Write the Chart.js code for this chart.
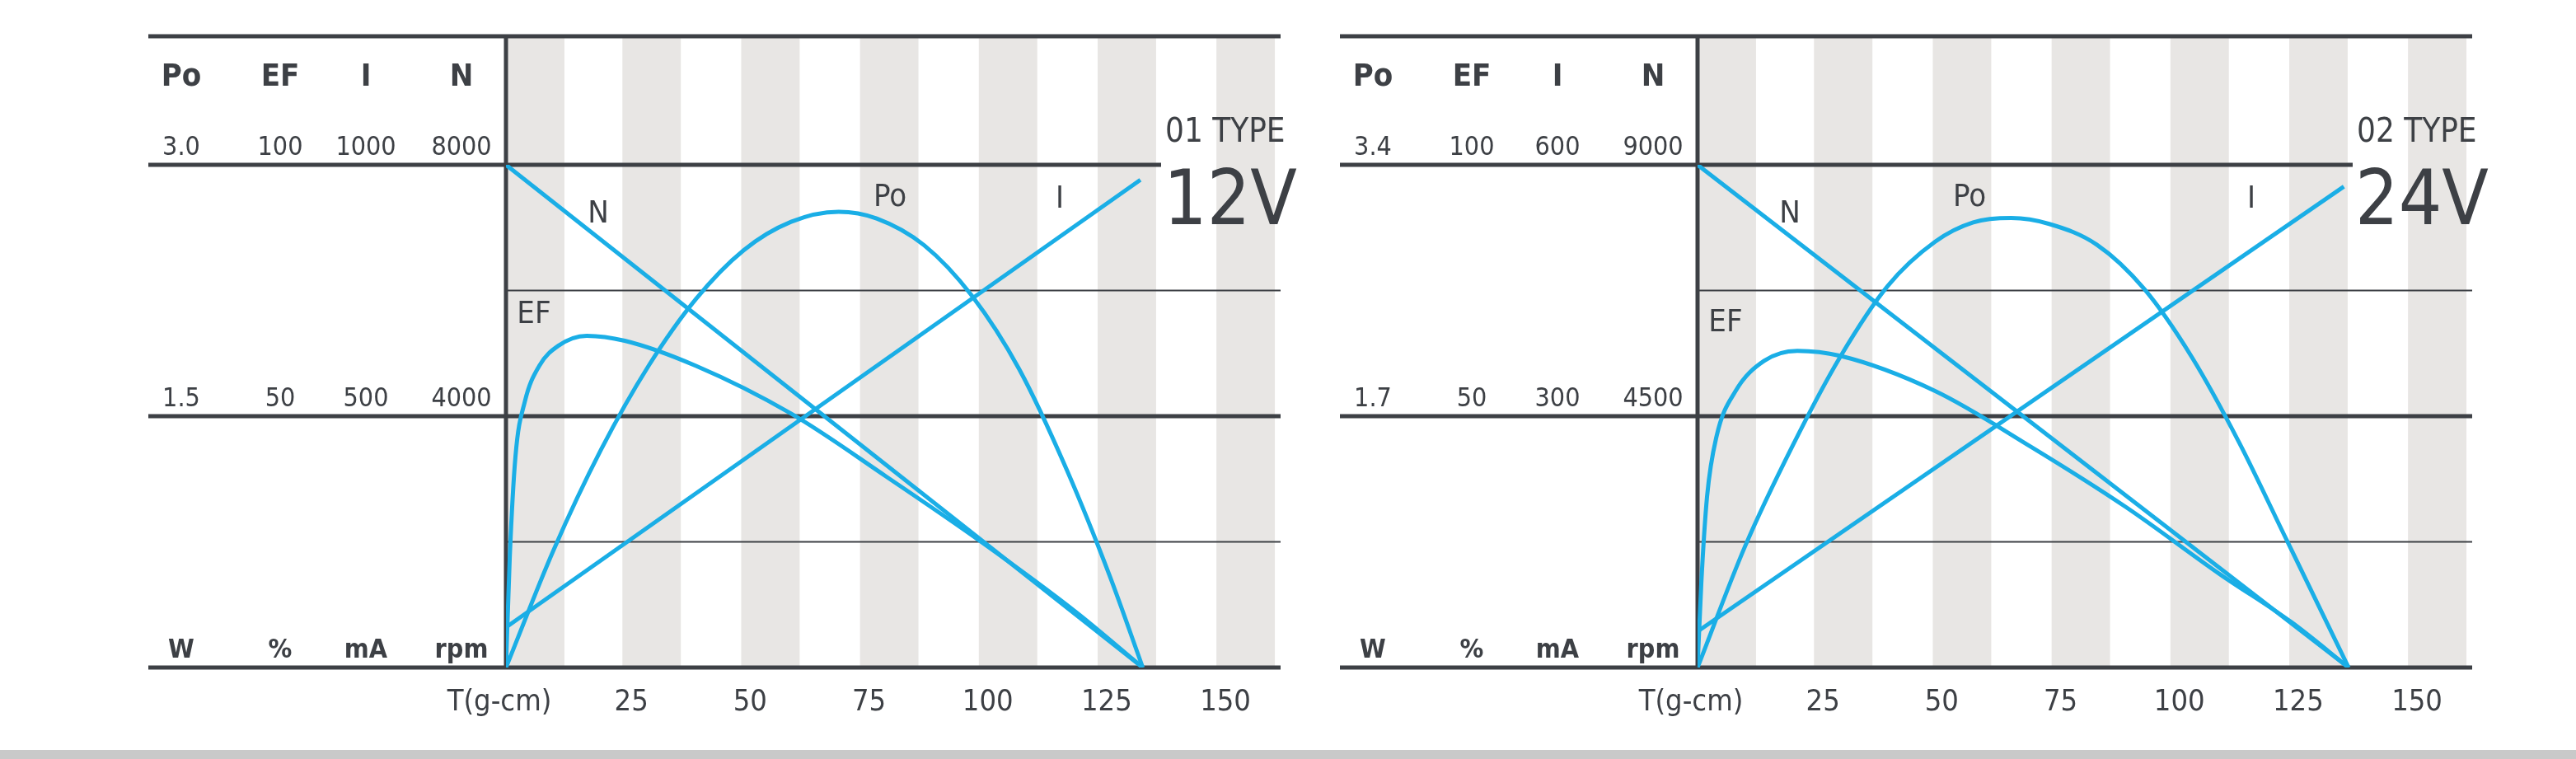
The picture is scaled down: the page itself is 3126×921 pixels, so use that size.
<!DOCTYPE html>
<html>
<head>
<meta charset="utf-8">
<script src="https://cdn.jsdelivr.net/npm/chart.js@4.4.0/dist/chart.umd.min.js"></script>
<style>
  body { margin: 0; background: #fff; width: 3126px; height: 921px; overflow: hidden; position: relative; }
  canvas { position: absolute; top: 0; }
  #strip { position: absolute; left: 0; top: 910px; width: 3126px; height: 11px; background: #c9c9c9; }
</style>
</head>
<body>
<canvas id="motor12"></canvas>
<canvas id="motor24"></canvas>
<div id="strip"></div>
<script>
const xTicks = [25, 50, 75, 100, 125, 150];
const stripeStarts = [0, 24.5, 49.5, 74.5, 99.5, 124.5, 149.5];
const stripeWidth = 12.3;

// 12V motor
const ef12 = [{x:0,y:0},{x:0.8,y:22},{x:2,y:42},{x:4,y:53},{x:7,y:60},{x:11,y:64},{x:17,y:66},{x:25,y:65},{x:40,y:60},{x:60,y:50.5},{x:80,y:38},{x:100,y:25},{x:120,y:11},{x:134,y:0}];
const po12 = [{x:0,y:0},{x:10,y:0.7},{x:20,y:1.3},{x:30,y:1.8},{x:40,y:2.2},{x:50,y:2.49},{x:60,y:2.66},{x:70,y:2.72},{x:78,y:2.68},{x:88,y:2.52},{x:98,y:2.22},{x:108,y:1.78},{x:118,y:1.18},{x:127,y:0.55},{x:134,y:0}];
const i12 = [{x:0,y:80},{x:133.5,y:970}];
const n12 = [{x:0,y:8000},{x:134,y:0}];

// 24V motor
const ef24 = [{x:0,y:0},{x:0.8,y:17},{x:2,y:34},{x:4,y:46},{x:8,y:55},{x:14,y:61},{x:21,y:63},{x:30,y:62},{x:50,y:55},{x:70,y:44},{x:90,y:32},{x:110,y:18.5},{x:125,y:9},{x:137,y:0}];
const po24 = [{x:0,y:0},{x:10,y:0.82},{x:20,y:1.5},{x:30,y:2.1},{x:40,y:2.58},{x:50,y:2.88},{x:58,y:3.01},{x:66,y:3.04},{x:74,y:3.0},{x:84,y:2.86},{x:94,y:2.56},{x:104,y:2.1},{x:114,y:1.52},{x:124,y:0.86},{x:137,y:0}];
const i24 = [{x:0,y:43},{x:136,y:574}];
const n24 = [{x:0,y:9000},{x:137,y:0}];

const BLUE = '#1aaee6';
const INK = '#3d4045';
const FONT = '"Liberation Sans Narrow", "DejaVu Sans Condensed", "Roboto", sans-serif';

function panel(id, left, width, m) {
  const cv = document.getElementById(id);
  cv.style.left = left + 'px';
  cv.width = width; cv.height = 921;
  cv.style.width = width + 'px'; cv.style.height = '921px';

  const deco = {
    id: 'deco',
    beforeDatasetsDraw(chart) {
      const c = chart.ctx, a = chart.chartArea, x = chart.scales.x;
      c.save();
      c.fillStyle = '#e8e6e4';
      stripeStarts.forEach(s => {
        const x0 = x.getPixelForValue(s), x1 = Math.min(x.getPixelForValue(s + stripeWidth), a.right);
        c.fillRect(x0, 44, x1 - x0, a.bottom - 44);
      });
      const mid = (a.top + a.bottom) / 2;
      c.strokeStyle = INK;
      c.lineWidth = 2;
      [(a.top + mid) / 2, (mid + a.bottom) / 2].forEach(y => {
        c.beginPath(); c.moveTo(a.left, y); c.lineTo(a.right, y); c.stroke();
      });
      c.lineWidth = 5;
      const hl = (x0, x1, y) => { c.beginPath(); c.moveTo(x0, y); c.lineTo(x1, y); c.stroke(); };
      hl(180, a.right, 44);
      hl(180, a.right - 145, a.top);
      hl(180, a.right, mid);
      hl(180, a.right, a.bottom);
      c.beginPath(); c.moveTo(a.left, 44); c.lineTo(a.left, a.bottom); c.stroke();
      c.restore();
    },
    afterDatasetsDraw(chart) {
      const c = chart.ctx, a = chart.chartArea, x = chart.scales.x;
      const mid = (a.top + a.bottom) / 2;
      c.save();
      c.fillStyle = INK;
      c.textAlign = 'center';
      c.textBaseline = 'alphabetic';
      const cols = [220, 340, 444, 560];
      c.font = 'bold 38px ' + FONT;
      ['Po', 'EF', 'I', 'N'].forEach((t, k) => c.fillText(t, cols[k], 104));
      c.font = '32px ' + FONT;
      m.top.forEach((t, k) => c.fillText(t, cols[k], 188));
      m.mid.forEach((t, k) => c.fillText(t, cols[k], mid - 12));
      c.font = 'bold 32px ' + FONT;
      ['W', '%', 'mA', 'rpm'].forEach((t, k) => c.fillText(t, cols[k], a.bottom - 12));
      c.font = '36px ' + FONT;
      c.fillText('T(g-cm)', a.left - 8, 862);
      xTicks.forEach(v => c.fillText(String(v), x.getPixelForValue(v) + 8, 862));
      c.font = '38px ' + FONT;
      c.fillText('N', a.left + 112, 270);
      c.fillText('Po', a.left + m.poLab, 250);
      c.fillText('I', a.left + m.iLab, 252);
      c.fillText('EF', a.left + 34, m.efLab);
      c.textAlign = 'left';
      c.font = '40px ' + FONT;
      c.fillText(m.type, a.right - 140, 172);
      c.font = '92px ' + FONT;
      c.fillText(m.volt, a.right - 142, 272);
      c.restore();
    }
  };

  const ds = (data, axis) => ({ data, yAxisID: axis, borderColor: BLUE, borderWidth: 5, pointRadius: 0, fill: false, cubicInterpolationMode: 'monotone' });
  const hidden = max => ({ type: 'linear', min: 0, max, display: false });

  new Chart(cv.getContext('2d'), {
    type: 'line',
    data: { datasets: [ds(m.ef, 'ef'), ds(m.po, 'po'), ds(m.i, 'i'), ds(m.n, 'n')] },
    options: {
      responsive: false,
      animation: false,
      layout: { padding: { left: 614, top: 200, right: width - 1554, bottom: 111 } },
      plugins: { legend: { display: false }, tooltip: { enabled: false } },
      scales: {
        x: { type: 'linear', min: 0, max: 163, display: false },
        po: hidden(m.max[0]), ef: hidden(m.max[1]), i: hidden(m.max[2]), n: hidden(m.max[3])
      }
    },
    plugins: [deco]
  });
}

panel('motor12', 0, 1600, {
  ef: ef12, po: po12, i: i12, n: n12, max: [3.0, 100, 1000, 8000],
  top: ['3.0', '100', '1000', '8000'], mid: ['1.5', '50', '500', '4000'],
  type: '01 TYPE', volt: '12V', poLab: 466, iLab: 672, efLab: 392
});
panel('motor24', 1446, 1680, {
  ef: ef24, po: po24, i: i24, n: n24, max: [3.4, 100, 600, 9000],
  top: ['3.4', '100', '600', '9000'], mid: ['1.7', '50', '300', '4500'],
  type: '02 TYPE', volt: '24V', poLab: 330, iLab: 672, efLab: 402
});
</script>
</body>
</html>
